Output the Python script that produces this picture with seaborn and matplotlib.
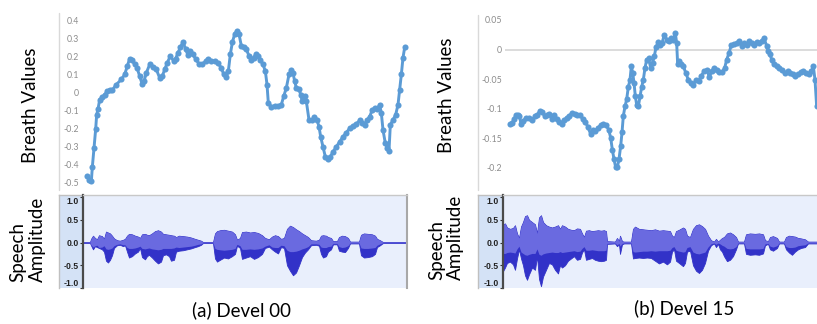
import numpy as np
import pandas as pd
import matplotlib
matplotlib.use("Agg")
import matplotlib.pyplot as plt
from matplotlib.lines import Line2D
import seaborn as sns

# ---------------- data ---------------- #

# breath signal, Devel 00 (frame index, value)
breath_a_t = [0, 6, 13, 16, 21, 26, 29, 33, 38, 46, 53, 60, 68, 76, 88, 103, 113, 121, 128,
              136, 143, 150, 158, 165, 171, 178, 188, 198, 208, 218, 226, 233, 241, 250, 260,
              266, 273, 280, 288, 296, 303, 310, 318, 326, 336, 346, 356, 363, 373, 383, 393,
              403, 410, 418, 424, 430, 436, 443, 450, 456, 463, 470, 478, 486, 493, 500, 506,
              513, 520, 528, 535, 540, 544, 553, 563, 573, 583, 590, 598, 606, 613, 618, 623,
              628, 636, 641, 646, 653, 658, 666, 676, 682, 690, 696, 701, 708, 715, 723, 730,
              738, 748, 758, 768, 778, 788, 798, 808, 818, 826, 833, 840, 848, 856, 863, 870,
              878, 883, 888, 895, 901, 906, 910, 918, 926, 933, 938, 943, 948, 953]
breath_a = [-0.466, -0.49, -0.497, -0.416, -0.309, -0.205, -0.124, -0.092, -0.04, -0.025,
            -0.012, 0.007, 0.017, 0.014, 0.045, 0.073, 0.101, 0.148, 0.19, 0.18, 0.157, 0.139,
            0.092, 0.05, 0.063, 0.11, 0.157, 0.142, 0.129, 0.082, 0.092, 0.129, 0.167, 0.205,
            0.176, 0.19, 0.223, 0.252, 0.283, 0.242, 0.208, 0.233, 0.214, 0.186, 0.161, 0.157,
            0.176, 0.19, 0.176, 0.176, 0.163, 0.139, 0.101, 0.088, 0.12, 0.214, 0.28, 0.327,
            0.345, 0.327, 0.261, 0.255, 0.242, 0.205, 0.18, 0.195, 0.214, 0.205, 0.182, 0.157,
            0.12, 0.045, -0.059, -0.078, -0.074, -0.074, -0.068, -0.021, 0.026, 0.101, 0.126,
            0.11, 0.063, 0.026, 0.02, -0.012, -0.049, -0.021, -0.049, -0.153, -0.156, -0.134,
            -0.153, -0.19, -0.247, -0.303, -0.359, -0.374, -0.359, -0.331, -0.303, -0.275,
            -0.247, -0.224, -0.2, -0.186, -0.175, -0.156, -0.171, -0.18, -0.156, -0.134,
            -0.096, -0.087, -0.091, -0.068, -0.115, -0.209, -0.284, -0.312, -0.326, -0.18,
            -0.153, -0.124, -0.068, 0.017, 0.101, 0.195, 0.252]

# breath signal, Devel 15 (frame index, value)
breath_b_t = [0, 6, 12, 17, 23, 28, 33, 40, 48, 58, 66, 74, 82, 90, 97, 104, 111, 118, 125,
              133, 140, 148, 155, 163, 170, 178, 186, 194, 202, 210, 218, 226, 234, 242, 248,
              256, 264, 272, 280, 288, 296, 302, 307, 312, 317, 322, 327, 332, 336, 340, 345,
              350, 355, 360, 364, 368, 372, 376, 380, 385, 390, 395, 400, 405, 410, 416, 422,
              428, 433, 438, 444, 450, 456, 463, 470, 477, 484, 490, 496, 500, 503, 508, 514,
              520, 527, 535, 543, 550, 558, 566, 574, 582, 590, 598, 605, 613, 620, 628, 636,
              644, 650, 657, 664, 672, 680, 688, 695, 702, 710, 718, 725, 732, 740, 748, 755,
              762, 770, 775, 780, 785, 792, 800, 808, 816, 825, 833, 840, 848, 856, 864, 872,
              880, 888, 896, 904, 910, 915, 920]
breath_b = [-0.126, -0.124, -0.118, -0.111, -0.111, -0.112, -0.125, -0.121, -0.115, -0.115,
            -0.119, -0.113, -0.11, -0.103, -0.106, -0.112, -0.111, -0.108, -0.118, -0.11,
            -0.117, -0.122, -0.125, -0.119, -0.115, -0.112, -0.107, -0.108, -0.11, -0.111,
            -0.117, -0.122, -0.131, -0.143, -0.136, -0.138, -0.132, -0.128, -0.126, -0.128,
            -0.135, -0.149, -0.169, -0.185, -0.199, -0.199, -0.185, -0.163, -0.14, -0.112,
            -0.096, -0.084, -0.063, -0.051, -0.028, -0.039, -0.056, -0.079, -0.093, -0.096,
            -0.079, -0.063, -0.051, -0.031, -0.017, -0.015, -0.031, -0.022, -0.011, 0.004,
            0.012, 0.008, 0.011, 0.025, 0.017, 0.014, 0.02, 0.017, 0.028, 0.011, -0.025,
            -0.02, -0.025, -0.028, -0.039, -0.051, -0.057, -0.059, -0.051, -0.053, -0.044,
            -0.037, -0.034, -0.046, -0.037, -0.031, -0.034, -0.038, -0.038, -0.031, -0.017,
            -0.006, 0.008, 0.01, 0.011, 0.014, 0.006, 0.011, 0.008, 0.014, 0.011, 0.008,
            0.012, 0.011, 0.014, 0.02, 0.006, -0.003, -0.008, -0.017, -0.025, -0.028, -0.031,
            -0.034, -0.039, -0.037, -0.039, -0.042, -0.045, -0.042, -0.038, -0.037, -0.039,
            -0.042, -0.037, -0.028, -0.051, -0.096]

breath_a_ticks = [0.4, 0.3, 0.2, 0.1, 0, -0.1, -0.2, -0.3, -0.4, -0.5]
breath_a_labels = ['0.4', '0.3', '0.2', '0.1', '0', '-0.1', '-0.2', '-0.3', '-0.4', '-0.5']
breath_b_ticks = [0.05, 0, -0.05, -0.1, -0.15, -0.2]
breath_b_labels = ['0.05', '0', '-0.05', '-0.1', '-0.15', '-0.2']

# speech waveform envelopes, Devel 00 (time, peak high, peak low, rms)
wav_a_t = [0, 7, 8, 10, 12, 14, 16, 19, 21, 23, 25, 27, 29, 31, 34, 37, 40, 42, 44, 46, 49,
           52, 55, 57, 59, 62, 64, 66, 69, 72, 75, 78, 80, 83, 86, 88, 91, 93, 96, 100, 104,
           108, 112, 115, 118, 120, 130, 132, 134, 137, 141, 145, 149, 152, 154, 157, 159,
           163, 167, 171, 175, 179, 182, 186, 189, 192, 195, 198, 201, 204, 207, 210, 213,
           216, 219, 222, 225, 228, 233, 236, 238, 240, 243, 245, 248, 250, 254, 256, 259,
           262, 265, 267, 276, 278, 281, 285, 289, 292, 294, 297, 300, 324]
wav_a_hi = [0.01, 0.01, 0.08, 0.15, 0.10, 0.07, 0.16, 0.14, 0.08, 0.24, 0.22, 0.20, 0.15,
            0.09, 0.05, 0.04, 0.06, 0.08, 0.15, 0.19, 0.18, 0.15, 0.13, 0.10, 0.18, 0.19,
            0.17, 0.16, 0.20, 0.25, 0.27, 0.24, 0.19, 0.18, 0.17, 0.16, 0.15, 0.12, 0.15,
            0.14, 0.13, 0.11, 0.08, 0.06, 0.04, 0.01, 0.01, 0.20, 0.25, 0.27, 0.28, 0.26,
            0.24, 0.18, 0.06, 0.10, 0.23, 0.24, 0.22, 0.23, 0.21, 0.16, 0.10, 0.07, 0.13,
            0.16, 0.14, 0.08, 0.10, 0.30, 0.37, 0.34, 0.29, 0.25, 0.20, 0.16, 0.12, 0.05,
            0.04, 0.06, 0.15, 0.16, 0.15, 0.12, 0.10, 0.03, 0.03, 0.12, 0.15, 0.14, 0.10,
            0.02, 0.02, 0.17, 0.20, 0.19, 0.18, 0.15, 0.08, 0.05, 0.01, 0.01]
wav_a_lo = [-0.01, -0.01, -0.06, -0.15, -0.08, -0.10, -0.12, -0.15, -0.20, -0.40, -0.44,
            -0.38, -0.28, -0.12, -0.06, -0.05, -0.08, -0.06, -0.20, -0.33, -0.30, -0.24,
            -0.20, -0.12, -0.32, -0.37, -0.30, -0.27, -0.33, -0.40, -0.46, -0.42, -0.28,
            -0.26, -0.30, -0.40, -0.38, -0.20, -0.18, -0.17, -0.15, -0.13, -0.10, -0.08,
            -0.05, -0.01, -0.01, -0.35, -0.42, -0.38, -0.33, -0.35, -0.30, -0.25, -0.07,
            -0.12, -0.36, -0.33, -0.30, -0.36, -0.32, -0.25, -0.12, -0.09, -0.15, -0.20,
            -0.24, -0.10, -0.12, -0.50, -0.62, -0.72, -0.66, -0.50, -0.32, -0.22, -0.15,
            -0.06, -0.05, -0.07, -0.25, -0.33, -0.30, -0.20, -0.15, -0.04, -0.04, -0.18,
            -0.20, -0.21, -0.12, -0.02, -0.02, -0.28, -0.33, -0.32, -0.30, -0.25, -0.10,
            -0.06, -0.01, -0.01]
wav_a_rms = [0.005, 0.005, 0.05, 0.10, 0.07, 0.06, 0.11, 0.10, 0.07, 0.14, 0.15, 0.14, 0.12,
             0.07, 0.04, 0.03, 0.05, 0.05, 0.11, 0.13, 0.13, 0.12, 0.10, 0.08, 0.13, 0.14,
             0.13, 0.12, 0.14, 0.15, 0.16, 0.15, 0.13, 0.13, 0.13, 0.13, 0.12, 0.10, 0.11,
             0.10, 0.09, 0.08, 0.06, 0.04, 0.03, 0.005, 0.005, 0.13, 0.15, 0.16, 0.17, 0.16,
             0.15, 0.13, 0.04, 0.07, 0.15, 0.15, 0.14, 0.15, 0.14, 0.12, 0.08, 0.05, 0.10,
             0.11, 0.11, 0.06, 0.07, 0.17, 0.20, 0.20, 0.19, 0.17, 0.14, 0.12, 0.09, 0.03,
             0.03, 0.04, 0.10, 0.11, 0.11, 0.09, 0.08, 0.02, 0.02, 0.09, 0.11, 0.10, 0.07,
             0.01, 0.01, 0.12, 0.13, 0.13, 0.12, 0.11, 0.06, 0.03, 0.005, 0.005]

# speech waveform envelopes, Devel 15 (time, peak high, peak low, rms)
wav_b_t = [0, 2, 4, 7, 10, 12, 14, 16, 18, 20, 22, 24, 26, 29, 32, 34, 36, 38, 40, 43, 46,
           49, 52, 55, 57, 59, 62, 65, 68, 71, 74, 77, 79, 81, 83, 86, 89, 92, 95, 98, 101,
           103, 104, 112, 114, 116, 117, 119, 121, 128, 130, 132, 136, 140, 144, 148, 152,
           156, 160, 164, 167, 169, 171, 173, 176, 180, 182, 184, 187, 190, 193, 196, 199,
           202, 205, 208, 211, 213, 215, 217, 219, 221, 224, 227, 230, 233, 235, 241, 243,
           247, 252, 256, 260, 262, 265, 267, 270, 274, 276, 281, 283, 286, 289, 292, 295,
           298, 302, 305, 314]
wav_b_hi = [0.40, 0.42, 0.33, 0.30, 0.32, 0.38, 0.20, 0.10, 0.35, 0.45, 0.58, 0.60, 0.50,
            0.45, 0.40, 0.20, 0.55, 0.60, 0.45, 0.38, 0.35, 0.33, 0.35, 0.38, 0.30, 0.38,
            0.35, 0.30, 0.28, 0.27, 0.31, 0.30, 0.20, 0.12, 0.26, 0.27, 0.25, 0.26, 0.27,
            0.26, 0.27, 0.25, 0.03, 0.02, 0.10, 0.03, 0.15, 0.03, 0.02, 0.02, 0.30, 0.35,
            0.30, 0.29, 0.28, 0.27, 0.29, 0.26, 0.27, 0.26, 0.25, 0.15, 0.12, 0.25, 0.28,
            0.33, 0.30, 0.15, 0.12, 0.30, 0.38, 0.40, 0.36, 0.30, 0.15, 0.05, 0.02, 0.08,
            0.02, 0.06, 0.10, 0.12, 0.20, 0.22, 0.18, 0.12, 0.02, 0.02, 0.18, 0.20, 0.19,
            0.20, 0.18, 0.05, 0.03, 0.12, 0.14, 0.10, 0.02, 0.02, 0.12, 0.15, 0.14, 0.13,
            0.10, 0.09, 0.07, 0.02, 0.02]
wav_b_lo = [-0.63, -0.55, -0.45, -0.42, -0.48, -0.60, -0.35, -0.15, -0.35, -0.50, -0.72,
            -0.82, -0.70, -0.55, -0.60, -0.30, -0.80, -0.96, -0.75, -0.60, -0.45, -0.48,
            -0.60, -0.68, -0.50, -0.55, -0.50, -0.40, -0.35, -0.30, -0.38, -0.36, -0.22,
            -0.15, -0.38, -0.36, -0.34, -0.38, -0.40, -0.41, -0.40, -0.38, -0.03, -0.02,
            -0.08, -0.04, -0.25, -0.04, -0.02, -0.02, -0.35, -0.34, -0.33, -0.34, -0.33,
            -0.34, -0.40, -0.46, -0.42, -0.48, -0.42, -0.20, -0.15, -0.40, -0.45, -0.52,
            -0.45, -0.20, -0.18, -0.50, -0.62, -0.67, -0.60, -0.45, -0.18, -0.06, -0.02,
            -0.10, -0.03, -0.15, -0.20, -0.30, -0.41, -0.38, -0.30, -0.15, -0.02, -0.02,
            -0.25, -0.27, -0.26, -0.27, -0.24, -0.06, -0.03, -0.15, -0.18, -0.12, -0.02,
            -0.02, -0.15, -0.22, -0.27, -0.20, -0.15, -0.12, -0.10, -0.02, -0.02]
wav_b_rms = [0.24, 0.24, 0.22, 0.21, 0.22, 0.23, 0.14, 0.08, 0.21, 0.24, 0.27, 0.28, 0.26,
             0.24, 0.24, 0.14, 0.26, 0.28, 0.25, 0.23, 0.22, 0.21, 0.22, 0.22, 0.20, 0.22,
             0.21, 0.20, 0.19, 0.18, 0.20, 0.19, 0.13, 0.09, 0.17, 0.17, 0.16, 0.17, 0.18,
             0.18, 0.18, 0.17, 0.02, 0.01, 0.05, 0.02, 0.08, 0.02, 0.01, 0.01, 0.20, 0.21,
             0.20, 0.19, 0.19, 0.18, 0.19, 0.18, 0.18, 0.18, 0.17, 0.11, 0.09, 0.17, 0.19,
             0.21, 0.20, 0.11, 0.09, 0.21, 0.24, 0.25, 0.23, 0.21, 0.10, 0.03, 0.01, 0.04,
             0.01, 0.03, 0.06, 0.08, 0.13, 0.14, 0.13, 0.09, 0.01, 0.01, 0.13, 0.14, 0.14,
             0.14, 0.13, 0.03, 0.02, 0.08, 0.10, 0.07, 0.01, 0.01, 0.09, 0.11, 0.11, 0.10,
             0.07, 0.06, 0.05, 0.01, 0.01]

wav_ticks = [1.0, 0.5, 0.0, -0.5, -1.0]
wav_labels = ['1.0', '0.5', '0.0', '-0.5', '-1.0']

captions = ['(a) Devel 00', '(b) Devel 15']

# ---------------- styling ---------------- #

sns.set_theme(style='white')
plt.rcParams['font.family'] = ['Lato', 'DejaVu Sans']

W, H = 817, 324
BLUE = '#5b9bd5'
TICK_GREY = '#8c8c8c'
PEAK = '#3232c8'
RMS = '#6a6ae0'
WAVE_BG = '#e9effc'
RULER_BG = '#d4e2f6'


def px_rect(x0, y0, x1, y1):
    return [x0 / W, 1 - y1 / H, (x1 - x0) / W, (y1 - y0) / H]


def vline(fig, x, y0, y1, color='#d9d9d9', lw=1.0):
    fig.add_artist(Line2D([x / W, x / W], [1 - y0 / H, 1 - y1 / H],
                          transform=fig.transFigure, color=color, lw=lw))


fig = plt.figure(figsize=(W / 100, H / 100), dpi=100)
fig.patch.set_facecolor('white')


def breath_panel(rect, t, vals, xlim, ylim, ticks, labels, pad, zero_line):
    ax = fig.add_axes(rect)
    df = pd.DataFrame({'t': t, 'v': vals})
    if zero_line:
        ax.axhline(0, color='#d9d9d9', lw=1.3, zorder=0)
    sns.lineplot(data=df, x='t', y='v', ax=ax, color=BLUE, lw=2.1, marker='o',
                 markersize=4.4, markeredgewidth=0, sort=False, estimator=None)
    ax.set_xlim(*xlim)
    ax.set_ylim(*ylim)
    ax.set_xticks([])
    ax.set_yticks(ticks, labels)
    ax.tick_params(axis='y', length=0, pad=pad, labelsize=6.3, labelcolor=TICK_GREY)
    ax.set_xlabel('')
    ax.set_ylabel('')
    for s in ax.spines.values():
        s.set_visible(False)
    ax.patch.set_alpha(0)
    return ax


def wave_panel(ruler_x0, x0, x1, t, hi, lo, rms, xlim, right_border):
    ruler = fig.add_axes(px_rect(ruler_x0, 195, x0, 288))
    ruler.set_facecolor(RULER_BG)
    ruler.set_xticks([])
    ruler.set_yticks([])
    for name, s in ruler.spines.items():
        s.set_visible(name in ('top', 'left'))
        s.set_color('#c0c0c0')
        s.set_linewidth(1.0)

    ax = fig.add_axes(px_rect(x0, 195, x1, 288))
    ax.set_facecolor(WAVE_BG)
    ax.fill_between(t, lo, hi, color=PEAK, lw=0.6, edgecolor=PEAK)
    ax.fill_between(t, [-r for r in rms], hi, color=RMS, lw=0)
    ax.set_xlim(*xlim)
    ax.set_ylim(-1.0, 1.045)
    ax.set_xticks([])
    ax.set_yticks(wav_ticks, wav_labels)
    ax.tick_params(axis='y', direction='out', length=2.2, width=0.8, color='#333333',
                   pad=0.8, labelsize=6.2, labelcolor='#222222', left=True)
    for lab in ax.get_yticklabels():
        lab.set_fontweight('bold')
        lab.set_family(['Liberation Sans', 'DejaVu Sans'])
    labs = ax.get_yticklabels()
    labs[0].set_va('top')
    labs[-1].set_va('bottom')
    ax.spines['left'].set_color('#4a4a4a')
    ax.spines['left'].set_linewidth(1.6)
    ax.spines['top'].set_color('#c8c8c8')
    ax.spines['top'].set_linewidth(1.0)
    ax.spines['bottom'].set_visible(False)
    ax.spines['right'].set_visible(right_border)
    ax.spines['right'].set_color('#a8a8a8')
    ax.spines['right'].set_linewidth(1.5)
    return ax


# ---------------- panel (a) ---------------- #

vline(fig, 59, 13, 190)
breath_panel(px_rect(83, 13, 410, 190), breath_a_t, breath_a, (-12, 969),
             (-0.5447, 0.4447), breath_a_ticks, breath_a_labels, 3, False)
wave_panel(59, 83, 407, wav_a_t, wav_a_hi, wav_a_lo, wav_a_rms, (0, 324), True)

# ---------------- panel (b) ---------------- #

vline(fig, 478, 15, 190)
breath_panel(px_rect(505, 13, 817, 190), breath_b_t, breath_b, (-15, 921),
             (-0.2372, 0.0618), breath_b_ticks, breath_b_labels, 2, True)
wave_panel(478, 503, 817, wav_b_t, wav_b_hi, wav_b_lo, wav_b_rms, (0, 314), False)

# ---------------- labels ---------------- #

LABEL_SIZE = 13.5
for x, y in [(30, 105), (447, 95)]:
    fig.text(x / W, 1 - y / H, 'Breath Values', rotation=90, ha='center', va='center',
             fontsize=LABEL_SIZE, color='black')
for xs, xa, yb in [(17.5, 37, 282), (437, 455, 280)]:
    fig.text(xs / W, 1 - yb / H, 'Speech', rotation=90, ha='center', va='bottom',
             fontsize=LABEL_SIZE, color='black')
    fig.text(xa / W, 1 - yb / H, 'Amplitude', rotation=90, ha='center', va='bottom',
             fontsize=LABEL_SIZE, color='black')
for x, y, cap in [(242, 310, captions[0]), (684, 308, captions[1])]:
    fig.text(x / W, 1 - y / H, cap, ha='center', va='center', fontsize=LABEL_SIZE,
             color='black')

fig.savefig('out.png', dpi=100)
